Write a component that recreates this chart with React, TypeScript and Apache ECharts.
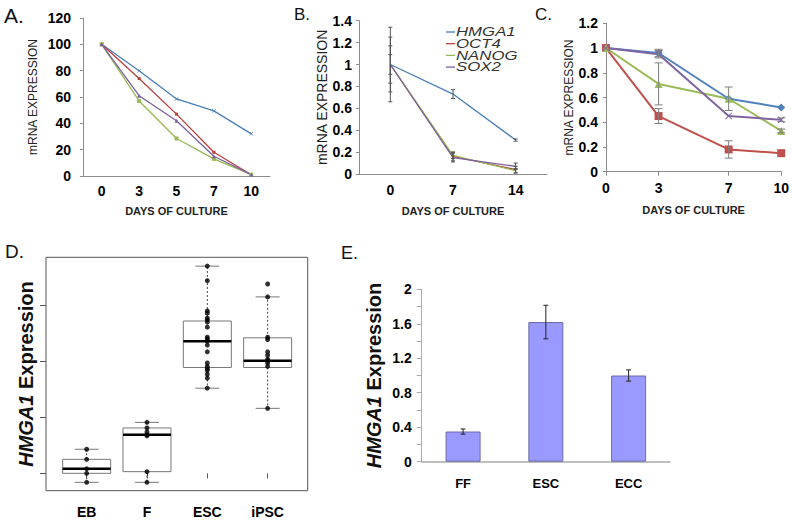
import React, { useEffect, useRef } from 'react';
import * as echarts from 'echarts';

// ---------- Panel A ----------
const daysA = ['0', '3', '5', '7', '10'];
const hmga1A = [100, 80, 58.5, 49.5, 32];
const oct4A = [100, 74, 47, 18, 1];
const nanogA = [100, 57, 28.5, 13, 1];
const sox2A = [100, 61, 42, 15, 1];

// ---------- Panel B ----------
const daysB = ['0', '7', '14'];
const hmga1B = [1, 0.73, 0.31];
const oct4B = [1, 0.16, 0.04];
const nanogB = [1, 0.17, 0.03];
const sox2B = [1, 0.15, 0.07];
const hmga1BErr = [0.34, 0.04, 0.01];
const oct4BErr = [0.25, 0.04, 0.03];
const nanogBErr = [0.17, 0.03, 0.02];
const sox2BErr = [0.09, 0.04, 0.03];
const legendB = ['HMGA1', 'OCT4', 'NANOG', 'SOX2'];

// ---------- Panel C ----------
const daysC = [0, 3, 7, 10];
const hmga1C = [1, 0.96, 0.59, 0.52];
const oct4C = [1, 0.45, 0.18, 0.15];
const nanogC = [1, 0.71, 0.59, 0.33];
const sox2C = [1, 0.95, 0.45, 0.42];
const hmga1CErr = [0, 0.03, 0, 0];
const oct4CErr = [0, 0.06, 0.07, 0];
const nanogCErr = [0, 0.17, 0.095, 0.015];
const sox2CErr = [0, 0.03, 0, 0.015];

// ---------- Panel D ----------
const groupsD = ['EB', 'F', 'ESC', 'iPSC'];
const lowD = [-0.16, -0.16, 1.52, 1.16];
const q1D = [0.0, 0.03, 1.89, 1.89];
const medD = [0.08, 0.69, 2.36, 2.01];
const q3D = [0.25, 0.81, 2.72, 2.42];
const highD = [0.43, 0.91, 3.7, 3.15];
const pointsEB = [0.43, 0.25, 0.08, 0.0, -0.16];
const pointsF = [0.91, 0.81, 0.74, 0.69, 0.67, 0.03, -0.16];
const pointsESC = [3.7, 3.44, 2.9, 2.86, 2.77, 2.74, 2.7, 2.61, 2.43, 2.4, 2.36, 2.29, 2.17, 1.97, 1.91, 1.87, 1.84, 1.77, 1.7, 1.52];
const pointsIPSC = [3.38, 3.15, 2.43, 2.39, 2.17, 2.11, 2.04, 2.01, 1.97, 1.91, 1.16];
const ticksD = [0, 1, 2, 3];

// ---------- Panel E ----------
const groupsE = ['FF', 'ESC', 'ECC'];
const valuesE = [0.35, 1.62, 1.0];
const errE = [0.03, 0.195, 0.065];

const FONT = 'Arial, "Liberation Sans", Helvetica, sans-serif';
const X_SYMBOL = 'path://M0,1 L1,0 L5,4 L9,0 L10,1 L6,5 L10,9 L9,10 L5,6 L1,10 L0,9 L4,5 Z';

const errorRender = (stroke: string, cap: number, lw = 1) => (params: any, api: any) => {
  const x = api.value(0);
  const lo = api.coord([x, api.value(1)]);
  const hi = api.coord([x, api.value(2)]);
  const st = { stroke, lineWidth: lw };
  return {
    type: 'group',
    children: [
      { type: 'line', shape: { x1: lo[0], y1: lo[1], x2: hi[0], y2: hi[1] }, style: st },
      { type: 'line', shape: { x1: lo[0] - cap, y1: lo[1], x2: lo[0] + cap, y2: lo[1] }, style: st },
      { type: 'line', shape: { x1: hi[0] - cap, y1: hi[1], x2: hi[0] + cap, y2: hi[1] }, style: st },
    ],
  };
};

const errData = (xs: any[], vals: number[], errs: number[]) =>
  vals.map((v, i) => [xs[i], v - errs[i], v + errs[i]]).filter((_, i) => errs[i] > 0);

const boxRender = (params: any, api: any) => {
  const i = api.value(0);
  const lo = api.coord([i, api.value(1)]);
  const q1 = api.coord([i, api.value(2)]);
  const md = api.coord([i, api.value(3)]);
  const q3 = api.coord([i, api.value(4)]);
  const hi = api.coord([i, api.value(5)]);
  const x = q1[0];
  const hw = 24;
  const cw = 12;
  const dash = { stroke: '#444', lineWidth: 1, lineDash: [2, 2] };
  const cap = { stroke: '#777', lineWidth: 1 };
  return {
    type: 'group',
    children: [
      { type: 'line', shape: { x1: x, y1: q3[1], x2: x, y2: hi[1] }, style: dash },
      { type: 'line', shape: { x1: x, y1: q1[1], x2: x, y2: lo[1] }, style: dash },
      { type: 'line', shape: { x1: x - cw, y1: hi[1], x2: x + cw, y2: hi[1] }, style: cap },
      { type: 'line', shape: { x1: x - cw, y1: lo[1], x2: x + cw, y2: lo[1] }, style: cap },
      { type: 'rect', shape: { x: x - hw, y: q3[1], width: 2 * hw, height: q1[1] - q3[1] }, style: { fill: 'none', stroke: '#777', lineWidth: 1 } },
      { type: 'line', shape: { x1: x - hw, y1: md[1], x2: x + hw, y2: md[1] }, style: { stroke: '#000', lineWidth: 2.5 } },
    ],
  };
};

const App: React.FC = () => {
  const ref = useRef<HTMLDivElement>(null);
  useEffect(() => {
    if (!ref.current) return;
    const chart = echarts.init(ref.current, undefined, { renderer: 'svg' });

    const axisGray = '#8c8c8c';
    const tickLbl = { fontFamily: FONT, fontWeight: 'bold' as const, fontSize: 14, color: '#000' };
    const xName = (gap: number) => ({
      name: 'DAYS OF CULTURE',
      nameLocation: 'middle' as const,
      nameGap: gap,
      nameTextStyle: { fontFamily: FONT, fontWeight: 'bold' as const, fontSize: 11, color: '#222' },
    });
    const yName = (gap: number, size = 12) => ({
      name: 'mRNA EXPRESSION',
      nameLocation: 'middle' as const,
      nameGap: gap,
      nameTextStyle: { fontFamily: FONT, fontSize: size, color: '#222' },
    });

    const colA = ['#4a7ebb', '#b8403c', '#98b954', '#7d60a0'];
    const colC = ['#4f81bd', '#c0504d', '#9bbb59', '#8064a2'];

    const lineA = (name: string, data: number[], color: string, symbol: string, size: number) => ({
      name, type: 'line', xAxisIndex: 0, yAxisIndex: 0, data,
      symbol, symbolSize: size, showSymbol: true,
      lineStyle: { color, width: 1.3 }, itemStyle: { color },
    });
    const lineB = (name: string, data: number[], color: string) => ({
      name, type: 'line', xAxisIndex: 1, yAxisIndex: 1, data, symbol: 'none',
      lineStyle: { color, width: 1.3 }, itemStyle: { color }, z: 3,
    });
    const lineC = (name: string, data: number[], color: string, symbol: string, size: number) => ({
      name, type: 'line', xAxisIndex: 2, yAxisIndex: 2,
      data: data.map((v, i) => [daysC[i], v]),
      symbol, symbolSize: size, lineStyle: { color, width: 2 }, itemStyle: { color }, z: 3,
    });
    const errSeries = (xi: number, data: any[], stroke: string, cap: number) => ({
      type: 'custom', xAxisIndex: xi, yAxisIndex: xi, data,
      encode: { x: 0, y: [1, 2] }, renderItem: errorRender(stroke, cap), z: 4, silent: true,
    });

    const ptsD = [pointsEB, pointsF, pointsESC, pointsIPSC]
      .flatMap((arr, gi) => arr.map((v) => [gi, v]));

    const legendGraphics: any[] = [];
    legendB.forEach((name, i) => {
      const y = 32 + i * 11.7;
      legendGraphics.push({
        type: 'line', shape: { x1: 446, y1: y, x2: 455, y2: y },
        style: { stroke: colA[i], lineWidth: 1.3 },
      });
      legendGraphics.push({
        type: 'text', x: 456, y, scaleX: 1.4,
        style: { text: name, fontFamily: FONT, fontStyle: 'italic', fontSize: 12, fill: '#333', verticalAlign: 'middle', align: 'left' },
      });
    });

    const letter = (t: string, x: number, y: number, size: number) => ({
      type: 'text', x, y,
      style: { text: t, fontFamily: FONT, fontSize: size, fill: '#111', verticalAlign: 'bottom', align: 'left' },
    });

    const option: any = {
      animation: false,
      backgroundColor: '#fff',
      grid: [
        { left: 83, top: 18, width: 187, height: 158 },
        { left: 359, top: 20.7, width: 188, height: 153.3 },
        { left: 606, top: 23.3, width: 176, height: 148.4 },
        { left: 46, top: 257.3, width: 261.7, height: 233.4, show: true, borderColor: '#555', borderWidth: 1, backgroundColor: 'transparent' },
        { left: 56.5, top: 257.3, width: 241.3, height: 233.4 },
        { left: 421.7, top: 289.3, width: 248.3, height: 172.4 },
      ],
      xAxis: [
        {
          gridIndex: 0, type: 'category', data: daysA, boundaryGap: true,
          axisLine: { lineStyle: { color: axisGray } }, axisTick: { length: 4, lineStyle: { color: axisGray } },
          axisLabel: { ...tickLbl, margin: 8 }, ...xName(29),
        },
        {
          gridIndex: 1, type: 'category', data: daysB, boundaryGap: true,
          axisLine: { lineStyle: { color: axisGray } }, axisTick: { length: 4, lineStyle: { color: axisGray } },
          axisLabel: { ...tickLbl, margin: 9 }, ...xName(31),
        },
        {
          gridIndex: 2, type: 'value', min: 0, max: 10,
          axisLine: { lineStyle: { color: axisGray } },
          axisTick: { show: true, length: 4, customValues: daysC, lineStyle: { color: axisGray } },
          axisLabel: { ...tickLbl, margin: 9, customValues: daysC },
          splitLine: { show: false }, ...xName(33),
        },
        { gridIndex: 3, type: 'value', min: 0, max: 1, show: false },
        {
          gridIndex: 4, type: 'category', data: groupsD, boundaryGap: true,
          axisLine: { show: false },
          axisTick: { show: true, alignWithLabel: true, length: 5, lineStyle: { color: '#555' } },
          axisLabel: { ...tickLbl, margin: 14 },
        },
        {
          gridIndex: 5, type: 'category', data: groupsE, boundaryGap: true,
          axisLine: { lineStyle: { color: '#aaa', width: 1.5 } }, axisTick: { show: false },
          axisLabel: { ...tickLbl, fontSize: 13, margin: 15 },
        },
      ],
      yAxis: [
        {
          gridIndex: 0, type: 'value', min: 0, max: 120, interval: 20,
          axisLine: { show: true, lineStyle: { color: axisGray } }, axisTick: { show: true, length: 3, lineStyle: { color: axisGray } },
          axisLabel: { ...tickLbl, margin: 12 }, splitLine: { show: false }, ...yName(44),
        },
        {
          gridIndex: 1, type: 'value', min: 0, max: 1.4, interval: 0.2,
          axisLine: { show: true, lineStyle: { color: axisGray } }, axisTick: { show: true, length: 3, lineStyle: { color: axisGray } },
          axisLabel: { ...tickLbl, margin: 7 }, splitLine: { show: false }, ...yName(30, 14),
        },
        {
          gridIndex: 2, type: 'value', min: 0, max: 1.2, interval: 0.2,
          axisLine: { show: true, lineStyle: { color: axisGray } }, axisTick: { show: true, length: 3, lineStyle: { color: axisGray } },
          axisLabel: { ...tickLbl, margin: 8 }, splitLine: { show: false }, ...yName(27),
        },
        {
          gridIndex: 3, type: 'value', min: -0.31, max: 3.857,
          axisLine: { show: false },
          axisTick: { show: true, length: 6, customValues: ticksD, lineStyle: { color: '#555' } },
          axisLabel: { show: false }, splitLine: { show: false },
          name: '{i|HMGA1} Expression', nameLocation: 'middle', nameGap: 10,
          nameTextStyle: {
            fontFamily: FONT, fontSize: 20, fontWeight: 'bold', color: '#111',
            rich: { i: { fontFamily: FONT, fontSize: 20, fontWeight: 'bold', fontStyle: 'italic', color: '#111' } },
          },
        },
        { gridIndex: 4, type: 'value', min: -0.31, max: 3.857, show: false },
        {
          gridIndex: 5, type: 'value', min: 0, max: 2, interval: 0.4,
          axisLine: { show: true, lineStyle: { color: '#aaa' } },
          axisTick: { show: true, length: 5, lineStyle: { color: '#aaa' } },
          minorTick: { show: true, splitNumber: 2, length: 5, lineStyle: { color: '#aaa' } },
          axisLabel: { ...tickLbl, margin: 10, formatter: (v: number) => String(+v.toFixed(1)) },
          splitLine: { show: false },
          name: '{i|HMGA1} Expression', nameLocation: 'middle', nameGap: 38,
          nameTextStyle: {
            fontFamily: FONT, fontSize: 20, fontWeight: 'bold', color: '#111',
            rich: { i: { fontFamily: FONT, fontSize: 20, fontWeight: 'bold', fontStyle: 'italic', color: '#111' } },
          },
        },
      ],
      graphic: [
        letter('A.', 4, 26, 21),
        letter('B.', 294, 23, 17),
        letter('C.', 535, 23, 17),
        letter('D.', 5, 261, 19),
        letter('E.', 341, 262, 18),
        ...legendGraphics,
      ],
      series: [
        lineA('HMGA1', hmga1A, colA[0], X_SYMBOL, 4),
        lineA('OCT4', oct4A, colA[1], 'rect', 3),
        lineA('NANOG', nanogA, colA[2], 'rect', 4),
        lineA('SOX2', sox2A, colA[3], 'triangle', 4),

        lineB('HMGA1', hmga1B, colA[0]),
        lineB('OCT4', oct4B, colA[1]),
        lineB('NANOG', nanogB, colA[2]),
        lineB('SOX2', sox2B, colA[3]),
        errSeries(1, errData([0, 1, 2], hmga1B, hmga1BErr), '#555', 2),
        errSeries(1, errData([0, 1, 2], oct4B, oct4BErr), '#555', 2),
        errSeries(1, errData([0, 1, 2], nanogB, nanogBErr), '#555', 2),
        errSeries(1, errData([0, 1, 2], sox2B, sox2BErr), '#555', 2),

        lineC('HMGA1', hmga1C, colC[0], 'diamond', 8),
        lineC('OCT4', oct4C, colC[1], 'rect', 8),
        lineC('NANOG', nanogC, colC[2], 'triangle', 8),
        lineC('SOX2', sox2C, colC[3], X_SYMBOL, 7),
        errSeries(2, errData(daysC, hmga1C, hmga1CErr), '#7f7f7f', 4),
        errSeries(2, errData(daysC, oct4C, oct4CErr), '#7f7f7f', 4),
        errSeries(2, errData(daysC, nanogC, nanogCErr), '#7f7f7f', 4),
        errSeries(2, errData(daysC, sox2C, sox2CErr), '#7f7f7f', 4),

        {
          type: 'custom', xAxisIndex: 4, yAxisIndex: 4,
          data: groupsD.map((_, i) => [i, lowD[i], q1D[i], medD[i], q3D[i], highD[i]]),
          encode: { x: 0, y: [1, 2, 3, 4, 5] }, renderItem: boxRender, z: 2,
        },
        {
          type: 'scatter', xAxisIndex: 4, yAxisIndex: 4, data: ptsD,
          symbol: 'circle', symbolSize: 5, itemStyle: { color: '#000' }, z: 5,
        },

        {
          type: 'bar', xAxisIndex: 5, yAxisIndex: 5, data: valuesE, barWidth: 35,
          itemStyle: { color: '#9999ff', borderColor: '#6b6ba8', borderWidth: 1 },
        },
        errSeries(5, errData([0, 1, 2], valuesE, errE), '#222', 2.5),
      ],
    };
    chart.setOption(option);
    return () => chart.dispose();
  }, []);
  return <div ref={ref} style={{ position: 'absolute', left: 0, top: 0, width: 792, height: 521 }} />;
};

export default App;
